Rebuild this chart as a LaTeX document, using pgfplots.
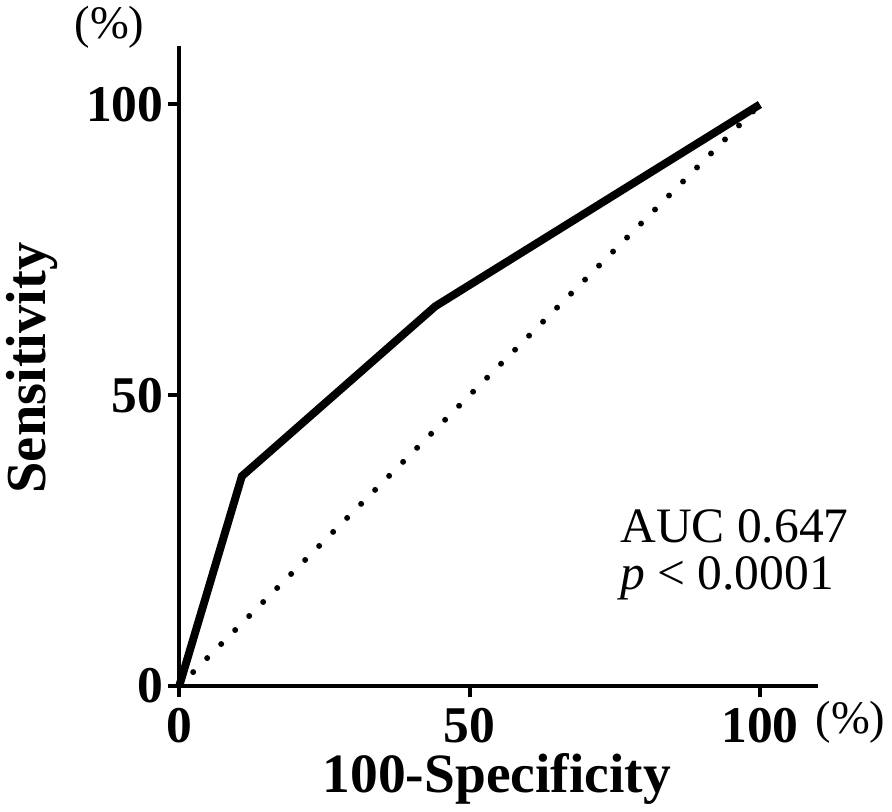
\documentclass[border=0pt]{standalone}
\usepackage{fontspec}
\setmainfont{Liberation Serif}
\usepackage{pgfplots}
\pgfplotsset{compat=1.18}
\begin{document}
\begin{tikzpicture}
\begin{axis}[
  scale only axis, width=322.5pt, height=323pt,
  xmin=0, xmax=110, ymin=0, ymax=110,
  axis x line=bottom, axis y line=left,
  axis line style={line width=2pt, -},
  xtick={0,50,100}, ytick={0,50,100},
  xticklabels={\textbf{0},\textbf{50},\textbf{100}},
  yticklabels={\textbf{0},\textbf{50},\textbf{100}},
  tick align=outside,
  major tick length=5.5pt,
  tick style={black, line width=2pt},
  ticklabel style={font=\fontsize{26}{26}\selectfont\bfseries},
  xticklabel style={yshift=-2pt},
  yticklabel style={xshift=1pt},
  clip=false,
]
\addplot[black, line width=4pt, line join=miter] coordinates {(0,0) (10.8,36.1) (44.1,65.3) (100,100)};
\addplot[black, line width=3pt, dash pattern=on 0pt off 10pt, line cap=round] coordinates {(0,0) (100,100)};
\pgfplotsinvokeforeach{0,50,100}{
  \draw[black, line width=2pt, solid, line cap=butt] (axis cs:#1,0) -- ++(0,-5.5pt);
  \draw[black, line width=2pt, solid, line cap=butt] (axis cs:0,#1) -- ++(-5.5pt,0);
}
\node[font=\fontsize{23.5}{23.5}\selectfont] at (axis cs:-12,113.2) {(\%)};
\node[font=\fontsize{23.5}{23.5}\selectfont] at (axis cs:115.6,-6.3) {(\%)};
\node[font=\fontsize{28.5}{28.5}\selectfont\bfseries, rotate=90] at (axis cs:-25.3,54.7) {Sensitivity};
\node[font=\fontsize{28}{28}\selectfont\bfseries] at (axis cs:54.7,-16) {100-Specificity};
\node[font=\fontsize{25}{23.5}\selectfont, anchor=west, inner sep=0pt, align=left] at (axis cs:75.9,22.6) {AUC 0.647\\\textit{p} < 0.0001};
\end{axis}
\end{tikzpicture}
\end{document}
